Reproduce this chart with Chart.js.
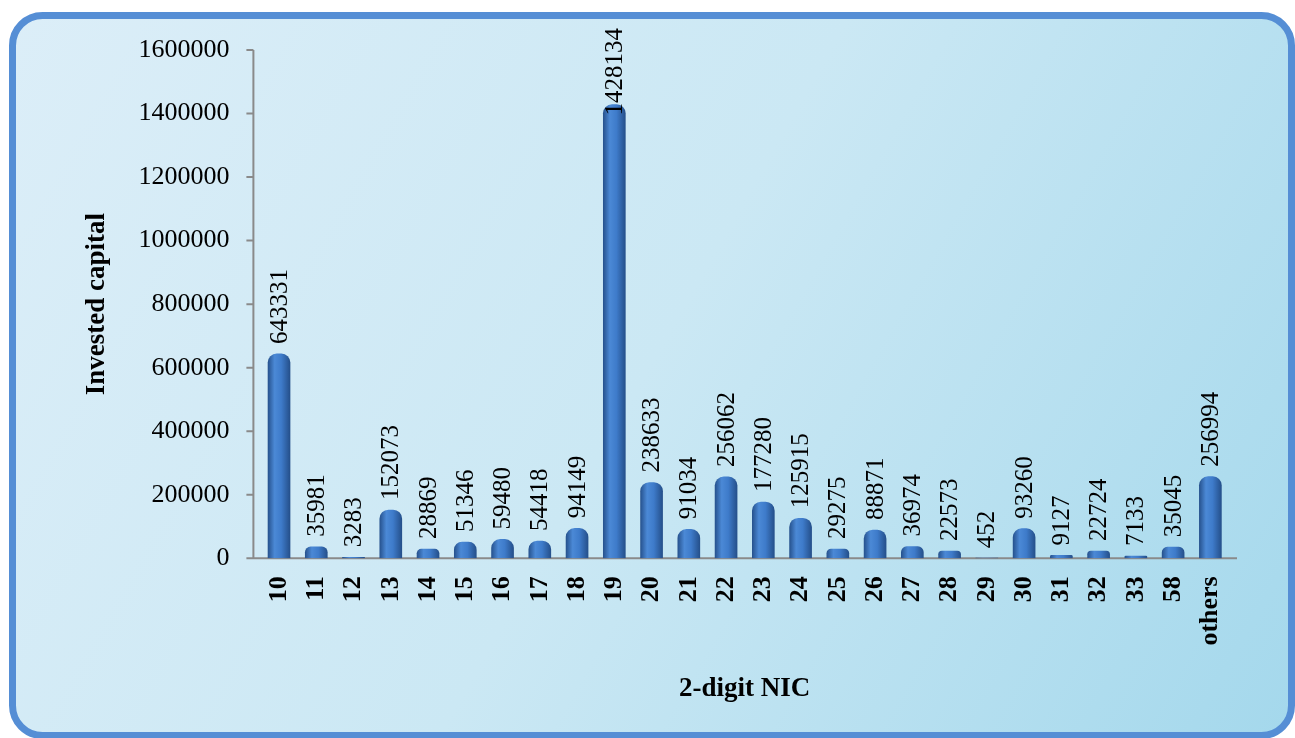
<!DOCTYPE html>
<html>
<head>
<meta charset="utf-8">
<script src="https://cdn.jsdelivr.net/npm/chart.js@4/dist/chart.umd.min.js"></script>
<style>
  html, body { margin: 0; padding: 0; background: #ffffff; }
  #wrap { width: 1295px; height: 738px; position: relative; }
</style>
</head>
<body>
<div id="wrap"><canvas id="nicChart" width="1295" height="738"></canvas></div>
<script>
// categories (2-digit NIC) and invested capital
const nicCodes = ['10', '11', '12', '13', '14', '15', '16', '17', '18', '19', '20', '21', '22',
    '23', '24', '25', '26', '27', '28', '29', '30', '31', '32', '33', '58', 'others'];
const investedCapital = [643331, 35981, 3283, 152073, 28869, 51346, 59480, 54418, 94149, 1428134,
    238633, 91034, 256062, 177280, 125915, 29275, 88871, 36974, 22573, 452, 93260, 9127, 22724,
    7133, 35045, 256994];
const yTicks = [0, 200000, 400000, 600000, 800000, 1000000, 1200000, 1400000, 1600000];

const serif = '"Liberation Serif", "Times New Roman", serif';
const axisGray = '#8a8a8a';

// rounded panel with light blue gradient behind the chart
const panelBg = {
    id: 'panelBg',
    beforeDraw(chart) {
        const ctx = chart.ctx;
        const x = 12.5, y = 15.5, w = 1295 - 16, h = 738 - 18, r = 30;
        ctx.save();
        ctx.fillStyle = '#ffffff';
        ctx.fillRect(0, 0, chart.width, chart.height);
        const g = ctx.createLinearGradient(0, 0, 1295, 738);
        g.addColorStop(0, '#dceef8');
        g.addColorStop(0.5, '#cbe8f4');
        g.addColorStop(1, '#a4d8ec');
        ctx.beginPath();
        ctx.roundRect(x, y, w, h, r);
        ctx.fillStyle = g;
        ctx.fill();
        ctx.lineWidth = 7;
        ctx.strokeStyle = '#558ed5';
        ctx.stroke();
        ctx.restore();
    }
};

// axis lines sit a little outside the plot area, like the original
const axisLines = {
    id: 'axisLines',
    beforeDatasetsDraw(chart) {
        const ctx = chart.ctx;
        const area = chart.chartArea;
        const ys = chart.scales.y;
        const ax = area.left - 7;
        ctx.save();
        ctx.strokeStyle = axisGray;
        ctx.lineWidth = 2;
        ctx.beginPath();
        ctx.moveTo(ax, ys.getPixelForValue(yTicks[yTicks.length - 1]));
        ctx.lineTo(ax, ys.getPixelForValue(0));
        yTicks.forEach(v => {
            const py = ys.getPixelForValue(v);
            ctx.moveTo(ax - 7, py);
            ctx.lineTo(ax, py);
        });
        const by = ys.getPixelForValue(0);
        ctx.moveTo(ax - 7, by);
        ctx.lineTo(area.right + 8, by);
        ctx.stroke();
        ctx.restore();
    }
};

// vertical value labels above every bar
const valueLabels = {
    id: 'valueLabels',
    afterDatasetsDraw(chart) {
        const ctx = chart.ctx;
        const meta = chart.getDatasetMeta(0);
        ctx.save();
        ctx.font = '25px ' + serif;
        ctx.fillStyle = '#000000';
        ctx.textAlign = 'left';
        ctx.textBaseline = 'middle';
        meta.data.forEach((bar, i) => {
            const txt = String(investedCapital[i]);
            const tw = ctx.measureText(txt).width;
            let y = bar.y - 10;
            if (y - tw < 28) y = 28 + tw;
            ctx.save();
            ctx.translate(bar.x + 1, y);
            ctx.rotate(-Math.PI / 2);
            ctx.fillText(txt, 0, 0);
            ctx.restore();
        });
        ctx.restore();
    }
};

// cylinder-like shading across each bar
function barShade(context) {
    const chart = context.chart;
    const xs = chart.scales.x;
    const fallback = '#3b76c4';
    if (!xs || context.dataIndex === undefined) return fallback;
    const cx = xs.getPixelForValue(context.dataIndex);
    if (!Number.isFinite(cx)) return fallback;
    const half = 11;
    const g = chart.ctx.createLinearGradient(cx - half, 0, cx + half, 0);
    g.addColorStop(0, '#27538f');
    g.addColorStop(0.3, '#4b89d6');
    g.addColorStop(0.6, '#3e7bca');
    g.addColorStop(1, '#25508b');
    return g;
}

new Chart(document.getElementById('nicChart'), {
    type: 'bar',
    data: {
        labels: nicCodes,
        datasets: [{
            data: investedCapital,
            backgroundColor: barShade,
            borderWidth: 0,
            borderRadius: { topLeft: 9, topRight: 9, bottomLeft: 0, bottomRight: 0 },
            borderSkipped: 'bottom',
            barThickness: 22
        }]
    },
    options: {
        responsive: false,
        animation: false,
        devicePixelRatio: 1,
        layout: { padding: { left: 81, right: 66, top: 50, bottom: 33 } },
        plugins: {
            legend: { display: false },
            tooltip: { enabled: false }
        },
        scales: {
            x: {
                grid: { display: false, drawTicks: false },
                border: { display: false },
                ticks: {
                    color: '#000000',
                    font: { family: serif, size: 26, weight: 'bold' },
                    minRotation: 90,
                    maxRotation: 90,
                    autoSkip: false,
                    padding: 18
                },
                title: {
                    display: true,
                    text: '2-digit NIC',
                    color: '#000000',
                    font: { family: serif, size: 27, weight: 'bold' },
                    padding: { top: 9, bottom: 0 }
                }
            },
            y: {
                min: 0,
                max: 1600000,
                afterBuildTicks(axis) {
                    axis.ticks = yTicks.map(v => ({ value: v }));
                },
                grid: { display: false, drawTicks: false },
                border: { display: false },
                ticks: {
                    color: '#000000',
                    font: { family: serif, size: 26 },
                    padding: 31,
                    callback: v => String(v)
                },
                title: {
                    display: true,
                    text: 'Invested capital',
                    color: '#000000',
                    font: { family: serif, size: 27, weight: 'bold' },
                    padding: { top: 0, bottom: -6 }
                }
            }
        }
    },
    plugins: [panelBg, axisLines, valueLabels]
});
</script>
</body>
</html>
